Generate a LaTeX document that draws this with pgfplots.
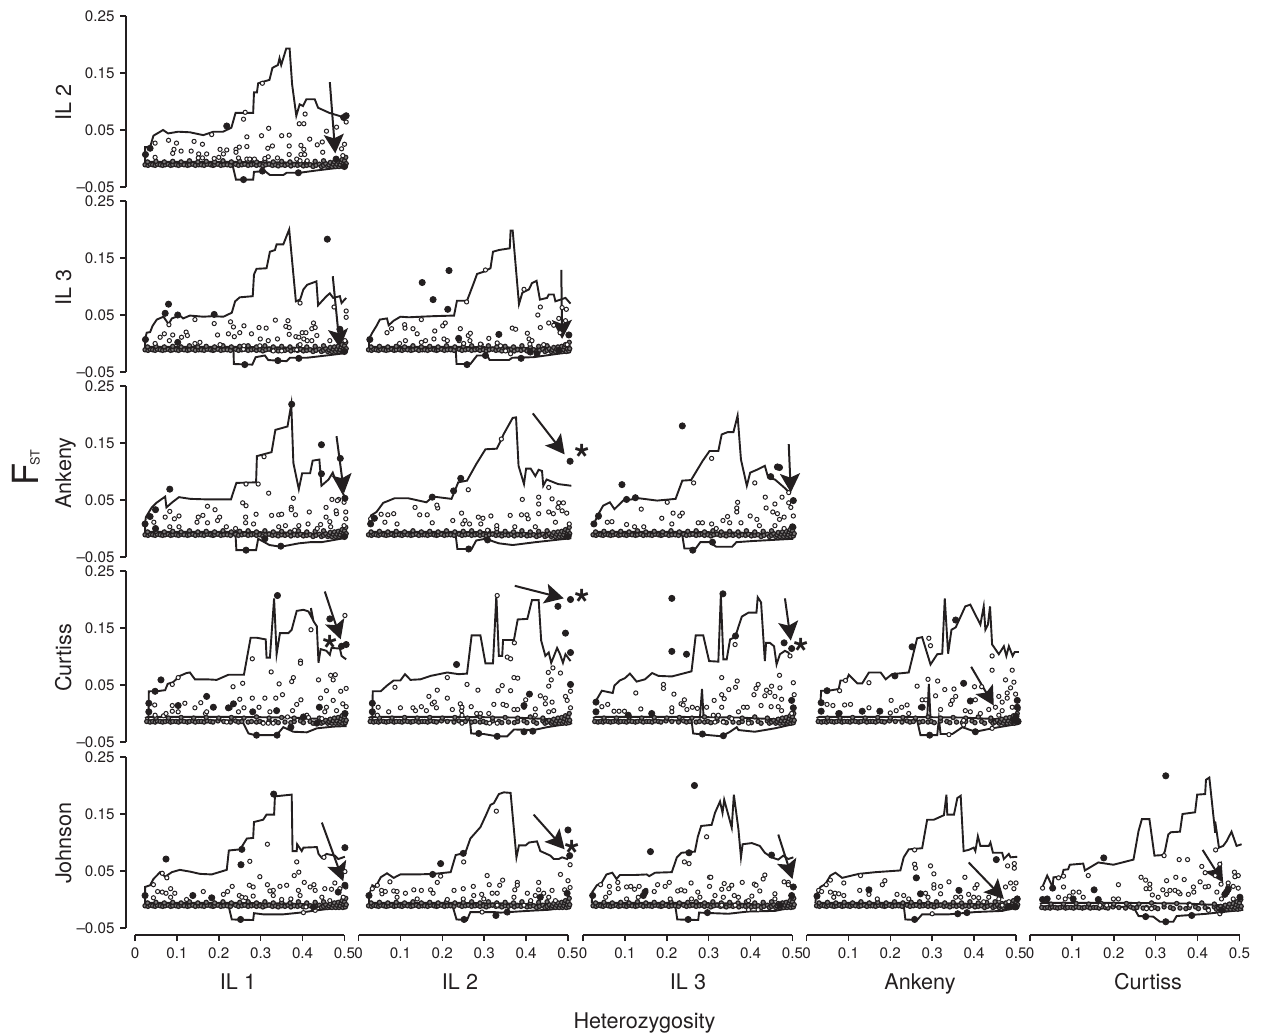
\documentclass[border=0pt]{standalone}
\usepackage{fontspec}
\setmainfont{TeX Gyre Heros}
\usepackage{pgfplots}
\usepackage{pgfplotstable}
\pgfplotsset{compat=1.18}
\usetikzlibrary{arrows.meta}
\definecolor{ink}{HTML}{231F20}
\pgfplotstableread[row sep=\\]{x y\\ .024 -.011\\ .031 -.012\\ .036 -.01\\ .042 -.011\\ .048 -.012\\ .053 -.01\\ .06 -.011\\ .066 -.012\\ .072 -.011\\ .079 -.01\\ .085 -.012\\ .09 -.011\\ .098 -.011\\ .104 -.012\\ .11 -.01\\ .117 -.011\\ .125 -.012\\ .13 -.011\\ .138 -.01\\ .144 -.012\\ .152 -.011\\ .158 -.011\\ .165 -.012\\ .172 -.01\\ .18 -.011\\ .186 -.012\\ .19 -.011\\ .198 -.01\\ .205 -.012\\ .212 -.011\\ .22 -.011\\ .228 -.012\\ .24 -.01\\ .247 -.012\\ .255 -.011\\ .262 -.01\\ .27 -.012\\ .278 -.011\\ .285 -.01\\ .29 -.012\\ .298 -.011\\ .305 -.013\\ .312 -.011\\ .32 -.01\\ .328 -.012\\ .335 -.011\\ .342 -.013\\ .35 -.011\\ .358 -.012\\ .365 -.01\\ .372 -.013\\ .38 -.011\\ .388 -.012\\ .395 -.01\\ .402 -.013\\ .41 -.012\\ .418 -.011\\ .425 -.014\\ .432 -.012\\ .44 -.01\\ .445 -.014\\ .45 -.012\\ .455 -.009\\ .46 -.014\\ .463 -.011\\ .466 -.007\\ .47 -.014\\ .473 -.01\\ .476 -.006\\ .479 -.014\\ .482 -.01\\ .485 -.005\\ .487 -.014\\ .49 -.011\\ .492 -.006\\ .494 -.002\\ .496 -.014\\ .498 -.009\\ .5 -.004\\ .502 -.013\\ .503 .002\\ .504 -.009\\ .03 -.006\\ .05 -.005\\ .07 -.006\\ .09 -.005\\ .11 -.006\\ .13 -.004\\ .15 -.006\\ .17 -.005\\ .19 -.006\\ .21 -.004\\ .23 -.006\\ .25 -.005\\ .27 -.004\\ .29 -.006\\ .31 -.004\\ .33 -.006\\ .35 -.005\\ .37 -.006\\ .39 -.004\\ .41 -.006\\ .43 -.005\\ .45 -.004\\}\baseA
\pgfplotstableread[row sep=\\]{x y\\ .028 -.014\\ .036 -.015\\ .042 -.014\\ .048 -.015\\ .053 -.013\\ .06 -.014\\ .066 -.015\\ .072 -.014\\ .079 -.013\\ .085 -.015\\ .09 -.014\\ .098 -.014\\ .104 -.015\\ .11 -.013\\ .117 -.014\\ .125 -.015\\ .13 -.014\\ .138 -.013\\ .144 -.015\\ .152 -.014\\ .158 -.014\\ .165 -.015\\ .172 -.013\\ .18 -.014\\ .186 -.015\\ .198 -.013\\ .212 -.014\\ .228 -.015\\ .24 -.013\\ .247 -.015\\ .255 -.014\\ .27 -.015\\ .278 -.014\\ .29 -.015\\ .298 -.014\\ .305 -.016\\ .32 -.013\\ .335 -.014\\ .342 -.016\\ .358 -.015\\ .372 -.016\\ .38 -.014\\ .395 -.013\\ .402 -.016\\ .418 -.014\\ .425 -.017\\ .44 -.013\\ .445 -.017\\ .45 -.015\\ .455 -.012\\ .46 -.017\\ .463 -.014\\ .466 -.01\\ .47 -.017\\ .473 -.013\\ .476 -.008\\ .479 -.017\\ .482 -.013\\ .485 -.007\\ .487 -.017\\ .49 -.014\\ .492 -.009\\ .494 -.004\\ .496 -.017\\ .498 -.012\\ .5 -.006\\ .502 -.016\\ .503 0\\ .504 -.012\\ .05 -.008\\ .08 -.008\\ .11 -.007\\ .14 -.008\\ .17 -.007\\ .2 -.008\\ .23 -.007\\ .26 -.008\\ .29 -.006\\ .32 -.008\\ .35 -.007\\ .38 -.008\\ .41 -.006\\ .44 -.008\\}\baseB
\newcommand\arr[4]{\draw[ink,line width=1pt,-{Stealth[length=9.5pt,width=10pt,inset=2pt]}] (axis cs:#1,#2) -- (axis cs:#3,#4);}
\newcommand\astk[2]{\node[anchor=base,inner sep=0pt,yshift=-11.6pt,text=ink] at (axis cs:#1,#2) {\fontsize{20}{20}\selectfont\bfseries *};}
\pgfplotsset{
  dat/.style={scale only axis,width=104.75pt,height=85.5pt,xmin=0,xmax=.5,ymin=-.05,ymax=.25,hide axis,clip=false,anchor=south west},
  ln/.style={ink,line width=.95pt,no markers},
  op/.style={only marks,mark=*,mark size=1.05pt,mark options={fill=white,draw=ink,line width=.5pt}},
  bs/.style={only marks,mark=*,mark size=1.05pt,mark options={fill=ink!60,draw=ink,line width=.6pt}},
  fi/.style={only marks,mark=*,mark size=1.55pt,mark options={fill=ink,draw=ink}},
  lab/.style={font=\fontsize{7.6}{9}\selectfont},
  every tick/.style={ink,line width=.75pt},
  every tick label/.append style={text=ink},
}
% #1 left px, #2 bottom px, #3 upper, #4 lower, #5 open, #6 filled, #7 extras, #8 base table
\newcommand\panel[8]{%
\begin{axis}[dat,at={(#1*0.5pt,-#2*0.5pt)}]
\addplot[ln] coordinates {#3};
\addplot[ln] coordinates {(.024,-.012)#4};
\addplot[bs] table[x=x,y=y] {#8};
\addplot[ln] coordinates {(.024,-.008)(.03,-.006)(.24,-.006)(.37,-.007)(.46,-.01)(.5,-.012)};
\addplot[op] coordinates {#5};
\addplot[fi] coordinates {#6};
#7
\end{axis}}
\newcommand\yax[1]{%
\begin{axis}[scale only axis,width=1pt,height=85.5pt,anchor=south west,at={(126*0.5pt,-#1*0.5pt)},xmin=0,xmax=1,ymin=-.05,ymax=.25,axis x line=none,axis y line=left,axis line style={-,ink,line width=1pt},ytick={-.05,.05,.15,.25},yticklabels={--0.05,0.05,0.15,0.25},tick align=outside,major tick length=3pt,y tick label style={lab,xshift=.8pt}]
\end{axis}}
\newcommand\xax[1]{%
\begin{axis}[scale only axis,height=1pt,width=104.75pt,anchor=south west,at={(#1*0.5pt,-935*0.5pt)},xmin=0,xmax=.5,ymin=0,ymax=1,axis y line=none,axis x line=bottom,axis line style={-,ink,line width=1pt},xtick={0,.1,.2,.3,.4,.5},xticklabels={0,0.1,0.2,0.3,0.4,0.5},tick align=outside,major tick length=3pt,x tick label style={lab,yshift=.4pt}]
\end{axis}}
\newcommand\rl[3]{\node[rotate=90,anchor=base,text=ink,inner sep=0pt] at (#1*0.5pt,-#2*0.5pt) {\fontsize{10.8}{12}\selectfont #3};}
\newcommand\bl[3]{\node[anchor=base,text=ink,inner sep=0pt] at (#1*0.5pt,-#2*0.5pt) {\fontsize{10.8}{12}\selectfont #3};}
\begin{document}
\begin{tikzpicture}
\path[use as bounding box] (0,0) rectangle (1264*0.5pt,-1034*0.5pt);
\yax{187}\yax{372}\yax{557}\yax{742}\yax{928}
\xax{135}\xax{358.5}\xax{583}\xax{806.5}\xax{1030}
\rl{71}{102}{IL 2}\rl{71}{287}{IL 3}\rl{71}{473}{Ankeny}\rl{71}{658}{Curtiss}\rl{71}{843}{Johnson}
\bl{238}{989}{IL 1}\bl{460}{989}{IL 2}\bl{688}{989}{IL 3}\bl{920}{989}{Ankeny}\bl{1148}{989}{Curtiss}\bl{644.5}{1028}{Heterozygosity}
\node[rotate=90,text=ink,inner sep=0pt] at (25*0.5pt,-474*0.5pt) {\fontsize{18}{18}\selectfont F};
\node[rotate=90,text=ink,inner sep=0pt] at (35*0.5pt,-458*0.5pt) {\fontsize{6.3}{7}\selectfont ST};
% Row IL 2
\panel{135}{187}
{(.024,-.011)(.024,.02)(.036,.02)(.044,.04)(.067,.05)(.079,.044)(.103,.047)(.131,.046)(.163,.041)(.187,.047)(.21,.047)(.23,.054)(.24,.08)(.282,.08)(.284,.116)(.291,.116)(.294,.132)(.321,.138)(.328,.159)(.341,.164)(.345,.176)(.349,.164)(.361,.193)(.369,.193)(.375,.13)(.385,.075)(.393,.095)(.401,.092)(.409,.104)(.429,.104)(.437,.089)(.464,.08)(.5,.072)}
{(.232,-.009)(.241,-.037)(.282,-.037)(.284,-.0235)(.31,-.022)(.322,-.029)(.354,-.029)(.362,-.025)(.393,-.025)(.433,-.021)(.5,-.015)}
{(.048,.027)(.08,.032)(.099,.027)(.093,.016)(.09,.009)(.11,.013)(.134,.013)(.141,.03)(.161,.025)(.152,.008)(.171,.008)(.151,.001)(.161,.001)(.048,.002)(.203,.016)(.219,.015)(.211,.008)(.2,.002)(.189,0)(.241,.016)(.241,.011)(.249,.02)(.267,.021)(.259,.069)(.263,.081)(.267,.038)(.302,.04)(.319,.053)(.35,.04)(.368,.041)(.392,.061)(.403,.061)(.406,.078)(.417,.034)(.435,.024)(.447,.029)(.448,.011)(.457,.048)(.481,.055)(.504,.064)(.368,.022)(.368,.007)(.396,.023)(.403,.016)(.396,.007)(.405,.007)(.317,.018)(.328,.022)(.318,.003)(.31,0)(.247,.001)(.267,-.001)(.274,-.001)(.285,-.001)(.34,.001)(.386,-.001)(.394,-.004)(.411,-.004)(.5,.025)(.493,.017)(.496,.005)(.304,.132)(.183,.042)}
{(.025,.007)(.036,.018)(.219,.057)(.504,.075)(.498,.072)(.259,-.037)(.304,-.022)(.39,-.025)(.48,-.001)(.5,-.014)}
{\arr{.465}{.134}{.478}{.009}}{\baseA}
% Row IL 3
\panel{135}{372}
{(.024,-.01)(.024,.008)(.028,.019)(.036,.02)(.042,.031)(.052,.042)(.068,.047)(.08,.034)(.088,.044)(.107,.049)(.115,.044)(.131,.049)(.147,.048)(.163,.047)(.187,.048)(.211,.047)(.231,.054)(.239,.074)(.25,.081)(.281,.083)(.284,.121)(.29,.131)(.314,.132)(.322,.161)(.334,.164)(.338,.174)(.354,.174)(.368,.2)(.384,.074)(.394,.077)(.402,.095)(.411,.103)(.433,.109)(.437,.067)(.457,.083)(.465,.088)(.473,.08)(.489,.083)(.493,.071)(.504,.08)}
{(.235,-.01)(.236,-.036)(.28,-.037)(.288,-.024)(.31,-.021)(.318,-.029)(.362,-.031)(.37,-.025)(.41,-.025)(.457,-.021)(.501,-.017)}
{(.081,.033)(.06,.011)(.07,.017)(.09,.015)(.082,.005)(.122,.02)(.125,.014)(.111,.011)(.048,0)(.143,.042)(.189,.035)(.197,.015)(.223,.017)(.237,.012)(.25,.019)(.228,.038)(.235,.029)(.26,.031)(.278,.017)(.296,.028)(.313,.027)(.335,.041)(.365,.04)(.36,.03)(.368,.028)(.368,.016)(.384,.012)(.391,.011)(.394,-.002)(.399,.019)(.408,.019)(.403,.008)(.411,.005)(.422,.005)(.422,.026)(.426,.036)(.43,.028)(.434,.014)(.394,.071)(.475,.064)(.504,.057)(.504,.046)(.318,.005)(.299,.008)(.34,.008)(.203,-.002)(.155,.002)(.143,0)(.489,.025)(.465,.005)(.501,.005)(.259,-.01)(.33,-.013)(.35,-.013)(.386,-.011)(.26,-.004)(.298,-.004)}
{(.025,.007)(.072,.053)(.08,.069)(.102,.05)(.189,.051)(.459,.183)(.262,-.037)(.341,-.03)(.391,-.026)(.489,.025)(.102,.002)(.5,-.014)}
{\arr{.472}{.118}{.489}{-.008}}{\baseA}
\panel{358.5}{372}
{(.025,-.01)(.025,.008)(.033,.019)(.043,.031)(.051,.042)(.068,.044)(.072,.032)(.084,.04)(.1,.047)(.12,.046)(.148,.047)(.18,.048)(.228,.049)(.235,.075)(.259,.075)(.275,.106)(.283,.122)(.299,.126)(.315,.132)(.321,.161)(.335,.164)(.361,.167)(.363,.198)(.368,.198)(.383,.069)(.391,.089)(.407,.095)(.414,.106)(.425,.11)(.433,.077)(.45,.08)(.454,.086)(.466,.086)(.47,.074)(.494,.08)(.506,.07)}
{(.232,-.01)(.234,-.036)(.267,-.036)(.283,-.021)(.307,-.021)(.313,-.029)(.359,-.029)(.367,-.025)(.418,-.024)(.506,-.015)}
{(.068,.019)(.079,.026)(.11,.033)(.111,.027)(.13,.026)(.15,.042)(.201,.031)(.207,.036)(.182,.022)(.258,.073)(.243,.026)(.14,.017)(.16,.005)(.18,.008)(.112,.005)(.098,0)(.204,.008)(.212,.005)(.262,.014)(.267,.018)(.266,.005)(.311,.009)(.293,-.002)(.335,.016)(.331,.001)(.367,.027)(.375,.025)(.403,.018)(.407,.008)(.414,.005)(.409,-.001)(.428,.05)(.434,.064)(.434,.028)(.454,.036)(.466,.032)(.478,.044)(.494,.04)(.496,.06)(.486,.063)(.395,.095)(.303,.129)(.481,.019)(.339,-.004)(.351,-.013)(.363,-.018)(.442,-.002)(.15,.002)(.24,.005)(.291,-.001)(.502,.014)(.498,-.002)(.251,0)}
{(.027,.007)(.152,.107)(.178,.077)(.216,.128)(.213,.06)(.239,.009)(.335,.016)(.259,-.037)(.303,-.021)(.388,-.026)(.502,.015)(.41,-.015)(.426,-.018)(.478,-.012)}
{\arr{.484}{.129}{.486}{.008}}{\baseA}
% Row Ankeny
\panel{135}{557}
{(.024,-.01)(.024,.008)(.026,.02)(.04,.037)(.051,.045)(.072,.056)(.075,.037)(.089,.046)(.105,.055)(.132,.052)(.175,.051)(.229,.051)(.242,.08)(.289,.081)(.291,.127)(.326,.134)(.335,.173)(.364,.179)(.373,.218)(.378,.115)(.391,.069)(.399,.097)(.418,.097)(.424,.119)(.44,.121)(.445,.075)(.462,.086)(.472,.098)(.478,.086)(.499,.058)}
{(.24,-.012)(.242,-.038)(.289,-.038)(.294,-.018)(.321,-.029)(.348,-.032)(.391,-.026)(.418,-.024)(.445,-.024)(.499,-.017)}
{(.083,.03)(.072,.02)(.105,.022)(.094,.017)(.083,.003)(.105,.003)(.151,.02)(.162,.023)(.173,.039)(.191,.033)(.202,.02)(.197,.014)(.173,.01)(.148,.011)(.257,.045)(.265,.04)(.265,.078)(.294,.078)(.308,.126)(.319,.062)(.289,.025)(.264,.02)(.264,.01)(.283,.008)(.326,.023)(.343,.024)(.35,.025)(.378,.053)(.373,.037)(.373,.033)(.383,.024)(.416,.029)(.391,.005)(.443,.007)(.456,.037)(.456,.02)(.47,.051)(.481,.026)(.465,.012)(.486,.051)(.499,.046)(.503,.029)(.503,.017)(.48,.031)(.483,.049)(.499,.005)(.413,.008)(.359,.005)(.343,.003)(.218,.003)(.045,.011)(.24,0)(.381,-.003)(.435,0)(.467,.003)}
{(.024,.008)(.036,.021)(.049,.033)(.083,.069)(.374,.218)(.445,.147)(.445,.096)(.49,.123)(.501,.053)(.265,-.038)(.31,-.018)(.049,0)(.348,-.031)(.5,-.014)}
{\arr{.481}{.162}{.499}{.062}}{\baseA}
\panel{358.5}{557}
{(.024,.008)(.03,.023)(.043,.029)(.059,.045)(.086,.053)(.119,.053)(.162,.046)(.178,.056)(.222,.052)(.238,.081)(.259,.084)(.281,.113)(.303,.139)(.33,.14)(.341,.156)(.346,.165)(.368,.194)(.376,.195)(.382,.11)(.395,.078)(.4,.105)(.411,.105)(.422,.092)(.43,.103)(.438,.101)(.441,.075)(.449,.086)(.476,.078)(.508,.075)}
{(.232,-.012)(.236,-.036)(.27,-.036)(.281,-.021)(.303,-.018)(.335,-.026)(.368,-.029)(.422,-.024)(.508,-.017)}
{(.029,.017)(.038,.017)(.054,.025)(.063,.011)(.07,.024)(.084,.026)(.092,.008)(.135,.037)(.146,.024)(.164,.024)(.189,.036)(.187,.041)(.176,.01)(.225,.014)(.246,.027)(.262,.068)(.254,.014)(.265,.008)(.286,.02)(.297,.018)(.316,.022)(.341,.157)(.362,.023)(.391,.051)(.389,.024)(.402,.024)(.454,.072)(.43,.055)(.43,.043)(.43,.026)(.462,.052)(.478,.045)(.489,.045)(.476,.037)(.486,.031)(.497,.027)(.454,.029)(.465,.026)(.47,.011)(.503,.008)(.422,.003)(.405,.017)(.249,.008)(.292,.008)(.33,0)(.373,.003)(.308,-.003)(.33,.005)}
{(.029,.008)(.038,.018)(.176,.055)(.227,.066)(.244,.088)(.505,.118)(.263,-.036)(.308,-.02)(.5,-.014)}
{\arr{.416}{.202}{.492}{.13}\astk{.535}{.137}}{\baseA}
\panel{583}{557}
{(.026,.008)(.035,.023)(.048,.04)(.064,.046)(.075,.034)(.096,.049)(.134,.053)(.177,.049)(.221,.052)(.237,.084)(.258,.085)(.285,.118)(.302,.136)(.323,.136)(.331,.165)(.345,.169)(.359,.169)(.369,.198)(.377,.121)(.391,.075)(.399,.098)(.415,.103)(.434,.11)(.442,.089)(.458,.086)(.48,.072)(.493,.063)}
{(.237,-.012)(.242,-.035)(.269,-.035)(.28,-.024)(.302,-.024)(.318,-.032)(.356,-.032)(.366,-.024)(.404,-.022)(.502,-.018)}
{(.037,.02)(.069,.012)(.058,.011)(.104,.007)(.139,.034)(.188,.018)(.201,.046)(.215,.027)(.237,.027)(.231,.022)(.212,.008)(.264,.08)(.307,.123)(.275,.01)(.285,.01)(.307,.008)(.334,.014)(.345,.021)(.367,.029)(.367,.036)(.369,.046)(.35,.01)(.399,.022)(.415,.016)(.41,.08)(.435,.055)(.437,.036)(.453,.029)(.458,.043)(.475,.055)(.491,.045)(.496,.037)(.502,.022)(.491,.063)(.48,.02)(.464,.026)(.469,.016)(.421,.005)(.377,.01)(.318,0)(.145,.003)(.123,.003)(.48,0)(.458,.005)}
{(.026,.008)(.037,.022)(.093,.077)(.104,.051)(.125,.054)(.237,.18)(.464,.108)(.469,.107)(.448,.091)(.502,.049)(.262,-.038)(.309,-.024)(.5,.003)}
{\arr{.491}{.148}{.496}{.063}}{\baseA}
% Row Curtiss
\panel{135}{742}
{(.032,-.015)(.033,.039)(.052,.039)(.072,.041)(.078,.052)(.091,.055)(.107,.066)(.123,.071)(.131,.072)(.143,.06)(.171,.06)(.195,.059)(.223,.068)(.26,.068)(.276,.133)(.29,.133)(.312,.13)(.314,.098)(.322,.098)(.332,.202)(.338,.104)(.346,.141)(.366,.141)(.374,.147)(.386,.18)(.402,.182)(.414,.179)(.422,.168)(.42,.185)(.426,.162)(.434,.153)(.438,.089)(.443,.113)(.457,.11)(.465,.103)(.469,.115)(.489,.114)(.493,.101)(.504,.095)}
{(.255,-.012)(.271,-.035)(.287,-.038)(.338,-.038)(.354,-.024)(.378,-.032)(.41,-.033)(.434,-.026)(.473,-.023)(.505,-.022)}
{(.047,.015)(.033,.003)(.048,-.003)(.068,-.004)(.074,0)(.089,.014)(.089,.004)(.103,.003)(.119,.018)(.089,.051)(.103,.063)(.143,.01)(.157,.019)(.171,.03)(.168,0)(.234,.047)(.257,.053)(.25,.025)(.26,.01)(.247,.003)(.227,.01)(.235,.017)(.28,.096)(.28,.027)(.296,.011)(.31,.027)(.325,.073)(.344,.052)(.336,.027)(.352,.033)(.374,.056)(.378,.063)(.395,.092)(.395,.088)(.396,.024)(.386,.016)(.376,.005)(.364,-.006)(.42,.147)(.438,.059)(.457,.04)(.443,.027)(.467,.067)(.478,.068)(.473,.059)(.491,.039)(.504,.044)(.473,.023)(.496,.017)(.504,.012)(.457,.011)(.481,.005)(.322,.003)(.306,-.017)(.318,-.017)(.33,-.017)(.219,-.015)(.41,-.003)(.414,-.007)(.453,.003)(.171,.003)(.446,-.009)(.501,.172)}
{(.033,.018)(.062,.059)(.033,.003)(.103,.014)(.171,.03)(.187,.011)(.223,.01)(.235,.017)(.34,.207)(.465,.166)(.504,.121)(.493,.118)(.281,.003)(.338,.005)(.402,-.006)(.29,-.038)(.339,-.038)(.372,-.024)(.44,.011)(.434,-.017)(.048,.039)(.501,0)}
{\arr{.453}{.214}{.491}{.13}\astk{.467}{.127}}{\baseB}
\panel{358.5}{742}
{(.033,-.012)(.034,.039)(.053,.039)(.068,.049)(.084,.058)(.1,.058)(.111,.069)(.124,.059)(.148,.06)(.172,.066)(.212,.072)(.239,.069)(.259,.07)(.27,.137)(.291,.137)(.303,.088)(.321,.088)(.329,.207)(.335,.101)(.343,.101)(.345,.129)(.371,.129)(.38,.165)(.403,.166)(.414,.199)(.43,.199)(.436,.128)(.446,.101)(.454,.107)(.46,.089)(.465,.098)(.474,.115)(.481,.104)(.488,.089)(.494,.104)(.506,.092)}
{(.266,-.012)(.269,-.035)(.299,-.036)(.331,-.04)(.355,-.04)(.371,-.028)(.418,-.029)(.45,-.024)(.51,-.017)}
{(.047,.011)(.033,.003)(.045,-.003)(.072,.003)(.087,.046)(.1,.01)(.13,.01)(.136,.005)(.15,.012)(.162,.005)(.168,.03)(.176,.017)(.186,.01)(.188,.041)(.181,.02)(.212,.027)(.212,.063)(.224,.007)(.243,.017)(.246,.005)(.259,.051)(.247,-.003)(.269,.012)(.285,.041)(.282,0)(.291,0)(.311,0)(.323,.016)(.333,.04)(.343,.049)(.345,.016)(.353,.014)(.363,.04)(.371,.063)(.38,.062)(.372,.124)(.355,.099)(.363,.096)(.371,.007)(.38,.007)(.399,.024)(.434,.031)(.446,.027)(.453,.072)(.46,.059)(.454,.048)(.482,.071)(.464,.08)(.494,.03)(.498,.023)(.506,.039)(.506,.01)(.462,.02)(.446,.017)(.422,-.003)(.313,-.017)(.331,-.017)(.247,-.017)(.466,.005)(.454,.003)(.331,.207)(.422,.008)(.395,.011)(.247,.011)}
{(.033,.018)(.033,.003)(.234,.086)(.408,.034)(.395,.014)(.476,.188)(.506,.2)(.494,.141)(.506,.107)(.506,.051)(.287,-.035)(.331,-.04)(.395,-.032)(.416,-.031)}
{\arr{.373}{.224}{.49}{.202}\astk{.535}{.208}}{\baseB}
\panel{583}{742}
{(.029,.02)(.045,.04)(.071,.036)(.075,.049)(.088,.058)(.1,.062)(.112,.07)(.128,.056)(.148,.06)(.165,.071)(.18,.066)(.212,.065)(.259,.074)(.269,.137)(.287,.137)(.301,.092)(.323,.091)(.329,.208)(.335,.095)(.343,.095)(.351,.13)(.363,.134)(.379,.17)(.395,.177)(.414,.177)(.417,.204)(.425,.195)(.434,.092)(.437,.124)(.446,.124)(.456,.118)(.462,.086)(.47,.104)(.482,.11)(.49,.107)(.498,.098)}
{(.259,-.012)(.263,-.035)(.287,-.037)(.331,-.04)(.351,-.032)(.367,-.024)(.371,-.029)(.41,-.032)(.458,-.026)(.506,-.018)}
{(.045,.012)(.059,.016)(.074,.004)(.086,.004)(.099,.004)(.138,.008)(.126,.036)(.192,.051)(.192,.044)(.217,.034)(.212,.01)(.212,.003)(.234,.017)(.242,.024)(.239,.015)(.248,.007)(.261,.011)(.273,.009)(.295,.011)(.313,.023)(.331,.063)(.331,.033)(.337,.026)(.331,.011)(.348,.042)(.364,.046)(.368,.057)(.363,.121)(.383,.011)(.392,.011)(.371,.003)(.408,.033)(.413,.044)(.418,.051)(.425,.014)(.434,.031)(.438,.041)(.45,.048)(.449,.012)(.469,.067)(.47,.045)(.458,.03)(.466,.012)(.474,.025)(.502,.054)(.504,.033)(.446,.037)(.502,.011)(.494,.101)(.323,-.003)(.311,-.003)(.315,-.015)(.335,-.015)(.355,-.009)(.395,-.017)(.474,.005)(.498,0)}
{(.031,.02)(.031,.003)(.212,.202)(.212,.109)(.247,.104)(.334,.21)(.364,.136)(.48,.124)(.498,.114)(.285,-.036)(.335,-.039)(.498,.023)(.502,.01)(.108,-.003)(.164,0)}
{\addplot[ln] coordinates {(.279,-.009)(.284,.043)(.288,-.009)};\arr{.482}{.202}{.496}{.128}\astk{.52}{.122}}{\baseB}
\panel{806.5}{742}
{(.033,.017)(.035,.04)(.053,.04)(.077,.043)(.081,.058)(.095,.058)(.101,.068)(.121,.053)(.133,.053)(.149,.072)(.177,.072)(.189,.06)(.204,.069)(.244,.072)(.264,.132)(.276,.134)(.296,.086)(.312,.104)(.324,.105)(.33,.202)(.338,.105)(.346,.147)(.356,.151)(.379,.188)(.391,.191)(.415,.156)(.423,.188)(.427,.147)(.433,.156)(.438,.188)(.443,.121)(.447,.117)(.459,.104)(.471,.118)(.477,.101)(.483,.118)(.492,.101)(.497,.108)(.507,.108)}
{(.264,-.012)(.272,-.038)(.312,-.038)(.316,-.009)(.32,-.036)(.348,-.036)(.372,-.024)(.403,-.032)(.443,-.026)(.507,-.018)}
{(.049,.016)(.063,.014)(.091,.015)(.105,.016)(.08,.001)(.093,.058)(.079,.04)(.149,.054)(.149,.01)(.133,.004)(.202,.023)(.2,.001)(.214,.005)(.227,.011)(.24,.015)(.264,.048)(.29,.06)(.313,.057)(.276,.024)(.285,.024)(.272,.011)(.296,.119)(.292,.132)(.308,.031)(.33,.042)(.352,.043)(.348,.023)(.356,.03)(.344,.016)(.32,.007)(.401,.047)(.403,.024)(.418,.047)(.443,.101)(.443,.076)(.491,.076)(.475,.059)(.495,.055)(.487,.045)(.479,.036)(.479,.027)(.499,.034)(.503,.023)(.505,.008)(.459,.03)(.467,.02)(.435,.007)(.451,.011)(.467,.005)(.379,.005)(.391,.003)(.34,-.037)(.375,-.012)(.375,-.02)(.443,-.026)(.459,-.003)(.491,.011)(.415,0)(.244,0)}
{(.035,.019)(.035,.004)(.049,.04)(.077,0)(.133,.004)(.175,.004)(.211,.066)(.252,.117)(.356,.164)(.375,.053)(.391,.022)(.294,-.038)(.403,-.032)(.503,.011)(.503,.023)(.276,.011)(.495,-.012)(.5,-.005)(.505,-.014)}
{\addplot[ln] coordinates {(.288,-.009)(.292,.052)(.296,-.009)};\arr{.393}{.082}{.447}{.014}}{\baseB}
% Row Johnson
\panel{135}{928}
{(.024,-.01)(.024,.022)(.036,.025)(.044,.036)(.06,.048)(.072,.04)(.088,.048)(.107,.052)(.131,.049)(.155,.045)(.183,.044)(.219,.052)(.224,.086)(.251,.088)(.267,.107)(.282,.108)(.284,.136)(.306,.14)(.314,.149)(.332,.149)(.334,.181)(.374,.184)(.376,.085)(.386,.085)(.387,.097)(.398,.085)(.402,.091)(.434,.092)(.438,.08)(.446,.073)(.457,.08)(.477,.077)(.485,.071)(.501,.075)}
{(.223,-.01)(.231,-.035)(.282,-.036)(.284,-.024)(.306,-.026)(.354,-.026)(.394,-.023)(.434,-.019)(.501,-.013)}
{(.044,.026)(.044,.003)(.054,.014)(.065,.013)(.074,.011)(.085,.019)(.095,.011)(.085,.004)(.076,.038)(.065,.046)(.123,0)(.163,.014)(.185,.003)(.211,.009)(.221,.014)(.232,.023)(.252,.062)(.274,.067)(.273,.025)(.282,.022)(.249,.007)(.255,.004)(.264,.003)(.282,.006)(.298,.04)(.316,.097)(.316,.026)(.33,.016)(.322,.015)(.33,.007)(.346,.023)(.362,.025)(.35,0)(.372,.001)(.38,.042)(.391,.048)(.386,.066)(.404,.03)(.39,.016)(.394,.007)(.418,.022)(.427,.026)(.43,.016)(.451,.074)(.453,.019)(.469,.018)(.477,.029)(.501,.049)(.489,.019)(.503,.022)(.446,.004)(.465,-.002)(.408,-.013)(.43,-.019)(.402,-.023)(.497,.004)}
{(.024,.007)(.138,.007)(.074,.071)(.255,.088)(.253,.061)(.331,.185)(.501,.091)(.501,.025)(.252,-.035)(.485,.013)(.183,.003)(.426,-.013)}
{\arr{.446}{.135}{.497}{.032}}{\baseA}
\panel{358.5}{928}
{(.025,-.01)(.025,.007)(.033,.025)(.041,.022)(.053,.039)(.068,.046)(.084,.038)(.1,.044)(.14,.044)(.18,.045)(.22,.048)(.232,.078)(.255,.082)(.267,.107)(.291,.127)(.303,.146)(.315,.166)(.323,.169)(.335,.185)(.347,.188)(.363,.187)(.377,.074)(.383,.095)(.399,.095)(.407,.1)(.426,.102)(.434,.085)(.458,.077)(.466,.071)(.478,.071)(.486,.074)(.498,.071)(.506,.08)}
{(.224,-.01)(.234,-.035)(.259,-.036)(.267,-.022)(.323,-.022)(.339,-.023)(.403,-.02)(.454,-.018)(.506,-.013)}
{(.033,.019)(.045,.025)(.056,.01)(.055,.016)(.075,.031)(.064,.014)(.084,.015)(.092,.014)(.112,.011)(.092,.004)(.132,.017)(.15,.016)(.14,.001)(.172,.017)(.178,.011)(.188,.03)(.196,.041)(.212,0)(.228,.016)(.25,.019)(.251,.066)(.25,.001)(.274,.023)(.275,.007)(.294,.009)(.307,.042)(.312,.026)(.329,.155)(.337,.025)(.344,.034)(.319,.011)(.331,.011)(.331,-.01)(.299,.001)(.295,-.022)(.379,.03)(.379,.025)(.373,.017)(.371,.004)(.43,.03)(.43,.017)(.442,.011)(.462,.016)(.482,.044)(.5,.033)(.505,.061)(.505,.021)(.492,.017)(.403,.011)(.422,.007)(.454,.004)(.47,-.002)(.395,-.01)(.411,-.002)}
{(.025,.007)(.177,.044)(.196,.063)(.25,.081)(.5,.122)(.504,.077)(.498,.011)(.355,-.022)(.252,-.035)(.328,-.028)(.434,.004)}
{\arr{.418}{.149}{.492}{.088}\astk{.511}{.094}}{\baseA}
\panel{583}{928}
{(.021,-.007)(.022,.013)(.033,.025)(.045,.03)(.056,.044)(.07,.047)(.08,.036)(.088,.043)(.124,.043)(.152,.044)(.158,.041)(.172,.047)(.212,.048)(.224,.074)(.235,.082)(.267,.084)(.274,.11)(.282,.129)(.307,.131)(.315,.152)(.327,.172)(.333,.152)(.337,.175)(.355,.126)(.36,.184)(.371,.123)(.377,.074)(.381,.097)(.403,.099)(.422,.094)(.434,.082)(.45,.074)(.466,.07)(.478,.077)(.49,.071)(.502,.074)}
{(.22,-.01)(.225,-.035)(.275,-.036)(.277,-.023)(.347,-.025)(.395,-.021)(.458,-.02)(.506,-.013)}
{(.042,.026)(.054,.004)(.063,.012)(.063,.023)(.083,.03)(.084,.019)(.104,.022)(.114,.023)(.123,.018)(.134,.023)(.15,.016)(.132,.004)(.104,.001)(.17,.014)(.178,.026)(.196,.023)(.206,.03)(.208,.001)(.226,.015)(.234,.017)(.243,.015)(.258,.029)(.242,.066)(.253,.063)(.295,.11)(.302,.039)(.302,.023)(.274,.013)(.259,.001)(.279,.004)(.305,.039)(.337,.028)(.331,.018)(.355,.025)(.348,.019)(.335,.004)(.38,.03)(.361,.007)(.371,.004)(.409,.027)(.413,.025)(.422,.015)(.43,.036)(.434,.043)(.458,.01)(.48,.031)(.49,.03)(.498,.004)(.49,.026)(.403,.006)(.395,-.002)(.418,-.018)(.395,-.018)(.331,-.01)(.363,-.01)(.458,.001)(.315,.007)}
{(.023,.007)(.161,.084)(.253,.082)(.266,.2)(.45,.078)(.502,.022)(.498,.007)(.251,-.035)(.297,-.023)(.144,.007)(.148,.013)(.47,-.01)}
{\arr{.466}{.114}{.5}{.036}}{\baseA}
\panel{806.5}{928}
{(.021,-.007)(.023,.007)(.033,.022)(.045,.027)(.057,.042)(.069,.047)(.085,.038)(.125,.045)(.165,.048)(.224,.051)(.232,.074)(.244,.088)(.276,.09)(.288,.14)(.304,.14)(.328,.148)(.334,.184)(.336,.149)(.352,.149)(.36,.178)(.368,.182)(.375,.085)(.387,.087)(.399,.091)(.403,.085)(.409,.111)(.415,.094)(.435,.094)(.439,.1)(.445,.082)(.467,.082)(.471,.071)(.483,.08)(.487,.074)(.503,.075)}
{(.232,-.01)(.236,-.035)(.264,-.036)(.276,-.026)(.34,-.026)(.403,-.022)(.467,-.02)(.507,-.013)}
{(.029,.016)(.036,.014)(.047,.026)(.057,.034)(.057,.013)(.068,.011)(.077,.01)(.089,.007)(.065,.004)(.089,.029)(.129,.042)(.127,.016)(.149,.009)(.169,.001)(.181,.026)(.187,.033)(.216,.009)(.232,.007)(.244,.001)(.258,.087)(.258,.062)(.26,.055)(.264,.038)(.284,.011)(.29,.004)(.296,.059)(.304,.045)(.304,.026)(.304,.02)(.32,.023)(.32,.01)(.34,.031)(.362,.017)(.356,.004)(.368,.004)(.378,.039)(.387,.009)(.402,.02)(.407,.026)(.399,.004)(.411,.003)(.435,.004)(.475,.022)(.48,.059)(.496,.063)(.496,.055)(.487,.029)(.5,.029)(.495,.019)(.459,.001)(.467,-.01)(.483,-.004)(.3,-.025)(.423,-.004)}
{(.025,.006)(.258,-.035)(.262,.038)(.361,-.025)(.383,-.023)(.453,.07)(.503,.001)(.272,.01)(.149,.017)(.499,-.013)(.483,-.013)(.364,.016)}
{\arr{.387}{.065}{.471}{.001}}{\baseA}
\panel{1030}{928}
{(.028,.019)(.041,.042)(.054,.022)(.056,.039)(.076,.04)(.08,.052)(.091,.053)(.095,.061)(.127,.063)(.131,.051)(.163,.065)(.199,.061)(.247,.07)(.259,.12)(.267,.141)(.285,.141)(.297,.077)(.318,.078)(.322,.085)(.33,.114)(.336,.118)(.358,.119)(.364,.15)(.394,.153)(.399,.184)(.418,.185)(.42,.21)(.428,.214)(.442,.117)(.442,.137)(.451,.091)(.461,.094)(.469,.102)(.481,.119)(.493,.094)(.505,.097)}
{(.247,-.013)(.259,-.029)(.294,-.03)(.31,-.039)(.342,-.039)(.35,-.029)(.422,-.025)(.509,-.018)}
{(.03,.02)(.068,.038)(.08,.041)(.08,.022)(.068,.004)(.084,.001)(.103,.013)(.117,.013)(.094,.006)(.139,.042)(.127,.004)(.211,.026)(.199,.001)(.211,.001)(.265,.039)(.276,.034)(.286,.027)(.277,.019)(.286,.019)(.292,.008)(.306,.004)(.317,.017)(.326,.033)(.32,.077)(.334,.016)(.346,.016)(.326,.009)(.348,.039)(.356,.07)(.376,.07)(.368,.035)(.358,.01)(.354,.013)(.378,.009)(.39,.022)(.391,.013)(.406,.031)(.418,.047)(.41,.058)(.426,.023)(.418,.022)(.443,.087)(.446,.013)(.453,.062)(.456,.027)(.442,.042)(.465,.01)(.473,.029)(.485,.023)(.488,.048)(.497,.042)(.489,.04)(.497,.02)(.473,.022)(.485,.001)(.457,.001)(.426,-.019)(.453,-.025)(.382,-.01)(.278,-.016)(.29,-.016)(.167,-.01)(.183,-.01)}
{(.03,0)(.041,.001)(.054,.02)(.176,.073)(.324,.217)(.276,-.03)(.324,-.039)(.386,-.028)(.457,-.019)(.501,.004)(.153,.017)(.163,0)(.469,.013)(.465,.009)(.473,.018)(.103,.001)}
{\arr{.412}{.087}{.461}{.03}}{\baseB}
\end{tikzpicture}
\end{document}
